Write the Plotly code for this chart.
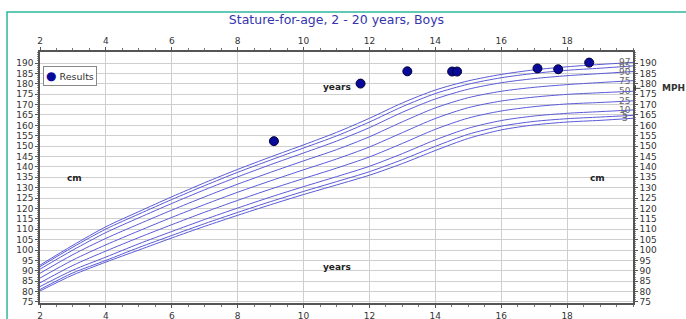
import plotly.graph_objects as go

ages = [2, 3, 4, 5, 6, 7, 8, 9, 10, 11, 12, 13, 14, 15, 16, 17, 18, 19, 20]
p3  = [80.3, 88.0, 94.2, 100.0, 105.8, 111.4, 116.7, 121.8, 126.7, 131.3, 136.0, 141.6, 147.9, 153.7, 157.8, 160.2, 161.6, 162.4, 163.4]
p5  = [81.0, 89.0, 95.0, 101.2, 107.0, 112.7, 118.1, 123.3, 128.2, 132.9, 137.7, 143.5, 149.9, 155.7, 159.6, 161.9, 163.2, 164.0, 164.8]
p10 = [82.4, 90.3, 96.6, 103.0, 108.9, 114.7, 120.2, 125.5, 130.5, 135.3, 140.3, 146.4, 153.0, 158.6, 162.3, 164.5, 165.8, 166.6, 167.4]
p25 = [84.2, 92.6, 99.5, 106.0, 112.2, 118.2, 123.9, 129.3, 134.4, 139.4, 144.8, 151.3, 158.1, 163.5, 166.9, 169.0, 170.3, 171.0, 171.8]
p50 = [86.5, 95.2, 102.5, 109.2, 115.7, 121.9, 127.8, 133.3, 138.6, 143.8, 149.6, 156.5, 163.3, 168.5, 171.7, 173.6, 174.9, 175.7, 176.4]
p75 = [88.8, 97.8, 105.6, 112.5, 119.2, 125.6, 131.7, 137.4, 142.9, 148.3, 154.5, 161.7, 168.4, 173.3, 176.4, 178.3, 179.6, 180.6, 181.5]
p90 = [90.8, 100.0, 108.4, 115.5, 122.4, 129.0, 135.2, 141.1, 146.7, 152.4, 158.9, 166.3, 172.7, 177.4, 180.5, 182.5, 183.9, 184.9, 185.9]
p95 = [92.0, 101.4, 110.1, 117.3, 124.3, 131.0, 137.4, 143.3, 149.1, 154.9, 161.6, 169.0, 175.3, 179.8, 182.9, 185.0, 186.5, 187.5, 188.6]
p97 = [92.7, 102.3, 111.2, 118.5, 125.6, 132.4, 138.8, 144.8, 150.6, 156.6, 163.4, 170.8, 177.0, 181.4, 184.5, 186.7, 188.2, 189.3, 190.3]

percentile_names = ["3", "5", "10", "25", "50", "75", "90", "95", "97"]
percentile_values = [p3, p5, p10, p25, p50, p75, p90, p95, p97]

result_ages = [9.1, 11.73, 13.15, 14.51, 14.66, 17.1, 17.73, 18.67]
result_heights = [152.4, 180.1, 186.0, 185.9, 185.9, 187.4, 187.0, 190.2]

mph_value = 177.8

x_ticks = [2, 4, 6, 8, 10, 12, 14, 16, 18]
y_ticks = list(range(75, 195, 5))

marker_color = "#0a0a9a"

fig = go.Figure()

curve_color = "#5a5ad8"
for name, vals in zip(percentile_names, percentile_values):
    fig.add_trace(go.Scatter(x=ages, y=vals, mode="lines", line=dict(color=curve_color, width=1, shape="spline", smoothing=0.8),
                             showlegend=False, hoverinfo="skip"))

fig.add_trace(go.Scatter(x=result_ages, y=result_heights, mode="markers", name="Results", showlegend=False,
                         marker=dict(color=marker_color, size=9, line=dict(color="#000033", width=1))))

# invisible trace for secondary axes
fig.add_trace(go.Scatter(x=[2, 20], y=[75, 190], xaxis="x2", yaxis="y2", mode="markers",
                         marker=dict(opacity=0), showlegend=False, hoverinfo="skip"))

font_family = "DejaVu Sans"
axis_common = dict(showline=True, linecolor="#555555", linewidth=1.5, ticks="outside", ticklen=3,
                   tickcolor="#555555", automargin=False,
                   tickfont=dict(size=9, color="#333333", family=font_family))

fig.update_layout(
    width=686, height=319,
    margin=dict(l=40, r=53, t=52, b=16),
    paper_bgcolor="white", plot_bgcolor="white",
    title=dict(text="Stature-for-age, 2 - 20 years, Boys", x=0.5, xref="paper", y=0.937, yanchor="middle",
               font=dict(family=font_family, size=12.5, color="#3535b0")),
    xaxis=dict(range=[2, 20], tickvals=x_ticks, showgrid=True, gridcolor="#cfcfcf", gridwidth=1,
               minor=dict(dtick=0.5, ticks="outside", ticklen=2, tickcolor="#777777", showgrid=False),
               mirror=False, zeroline=False, **axis_common),
    xaxis2=dict(range=[2, 20], tickvals=x_ticks, overlaying="x", side="top", showgrid=False,
                minor=dict(dtick=0.5, ticks="outside", ticklen=2, tickcolor="#777777"),
                zeroline=False, **axis_common),
    yaxis=dict(range=[74.5, 195.3], tickvals=y_ticks, showgrid=True, gridcolor="#cfcfcf", gridwidth=1,
               minor=dict(dtick=1, ticks="outside", ticklen=1.5, tickcolor="#888888", showgrid=False),
               zeroline=False, **axis_common),
    yaxis2=dict(range=[74.5, 195.3], tickvals=y_ticks, overlaying="y", side="right", showgrid=False,
                minor=dict(dtick=1, ticks="outside", ticklen=1.5, tickcolor="#888888"),
                zeroline=False, **axis_common),
    showlegend=False,
)

# compact legend box
fig.add_annotation(x=0.005, y=0.944, xref="paper", yref="paper", xanchor="left", yanchor="top",
                   text=f"<span style='color:{marker_color};font-size:12px'>●</span> Results",
                   showarrow=False, bgcolor="white", bordercolor="#888888", borderwidth=1, borderpad=2,
                   font=dict(size=9.5, color="#333333", family=font_family))

# percentile labels
for name, vals in zip(percentile_names, percentile_values):
    fig.add_annotation(x=19.75, y=vals[-1], text=name, showarrow=False, xanchor="center",
                       font=dict(size=9, color="#666666", family=font_family))

# axis titles inside plot
bold = dict(size=9, color="#222222", family=font_family)
fig.add_annotation(x=0.5, y=0.888, xref="paper", yref="paper", text="<b>years</b>", showarrow=False, font=bold)
fig.add_annotation(x=0.5, y=0.115, xref="paper", yref="paper", text="<b>years</b>", showarrow=False, font=bold)
fig.add_annotation(x=0.042, y=0.5, xref="paper", yref="paper", text="<b>cm</b>", showarrow=False, font=bold)
fig.add_annotation(x=0.956, y=0.5, xref="paper", yref="paper", text="<b>cm</b>", showarrow=False, font=bold)

# MPH marker
fig.add_annotation(x=1.0, y=mph_value, xref="paper", yref="y", ax=9, ay=0, text="", showarrow=True,
                   arrowhead=1, arrowsize=1, arrowwidth=1, arrowcolor="#444444")
fig.add_annotation(x=1.045, y=mph_value, xref="paper", yref="y", text="<b>MPH</b>", showarrow=False,
                   xanchor="left", font=dict(size=9, color="#333333", family=font_family))

# teal outer frame
fig.add_shape(type="rect", xref="paper", yref="paper", x0=-0.0556, x1=1.2, y0=-0.2, y1=1.159,
              line=dict(color="#2fb8a0", width=1.5), fillcolor="rgba(0,0,0,0)", layer="below")

fig.write_html("out.html", config={"displayModeBar": False},
               post_script="document.body.style.margin='0';document.body.style.overflow='hidden';")
